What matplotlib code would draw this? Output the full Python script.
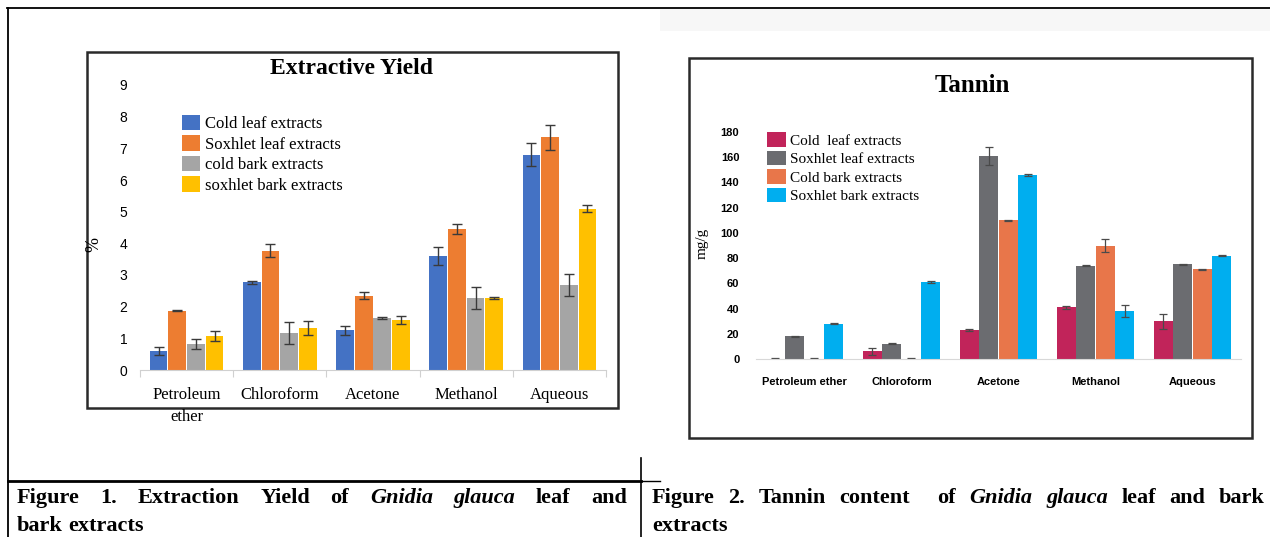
import matplotlib
matplotlib.use("Agg")
import matplotlib.pyplot as plt
from matplotlib.patches import Rectangle
import numpy as np

# tamaño de la imagen en pixeles
W, H = 1270, 537

# --- Datos: rendimiento de extracción (%) ---
solventes = ["Petroleum\nether", "Chloroform", "Acetone", "Methanol", "Aqueous"]
series_rend = ["Cold leaf extracts", "Soxhlet leaf extracts",
               "cold bark extracts", "soxhlet bark extracts"]
rend_cold_leaf = [0.6, 2.77, 1.25, 3.6, 6.8]
rend_soxhlet_leaf = [1.87, 3.77, 2.35, 4.45, 7.35]
rend_cold_bark = [0.82, 1.16, 1.63, 2.28, 2.68]
rend_soxhlet_bark = [1.07, 1.32, 1.58, 2.28, 5.1]
err_cold_leaf = [0.13, 0.04, 0.15, 0.28, 0.37]
err_soxhlet_leaf = [0.02, 0.2, 0.12, 0.17, 0.4]
err_cold_bark = [0.15, 0.35, 0.03, 0.35, 0.35]
err_soxhlet_bark = [0.15, 0.22, 0.13, 0.03, 0.12]
colores_rend = ["#4472C4", "#ED7D31", "#A5A5A5", "#FFC000"]

# --- Datos: contenido de taninos (mg/g) ---
solventes_tan = ["Petroleum ether", "Chloroform", "Acetone", "Methanol", "Aqueous"]
series_tan = ["Cold  leaf extracts", "Soxhlet leaf extracts",
              "Cold bark extracts", "Soxhlet bark extracts"]
tan_cold_leaf = [0.3, 6, 23, 41, 30]
tan_soxhlet_leaf = [18, 12, 161, 74, 75]
tan_cold_bark = [0.3, 0.3, 110, 90, 71]
tan_soxhlet_bark = [28, 61, 146, 38, 82]
err_tan_cold_leaf = [0.5, 3, 0.5, 1, 6]
err_tan_soxhlet_leaf = [0.5, 0.5, 7, 0.5, 0.5]
err_tan_cold_bark = [0.5, 0.5, 0.5, 5, 0.5]
err_tan_soxhlet_bark = [0.5, 0.5, 0.5, 5, 0.5]
colores_tan = ["#C1245A", "#6B6C70", "#E8764A", "#00AEEF"]


def rect_fig(x0, y0, x1, y1):
    # convierte una caja en pixeles (origen arriba) a fracciones de figura
    return [x0 / W, 1 - y1 / H, (x1 - x0) / W, (y1 - y0) / H]


fig = plt.figure(figsize=(W / 100, H / 100), dpi=100)
fig.patch.set_facecolor("white")

# capa de fondo en pixeles para marcos, títulos y leyendas de figura
bg = fig.add_axes([0, 0, 1, 1], zorder=-1)
bg.set_xlim(0, W)
bg.set_ylim(H, 0)
bg.axis("off")

# líneas de la tabla del documento
bg.add_patch(Rectangle((660, 9), 610, 22, color="#f7f7f7", lw=0))
bg.plot([7, 1270], [8, 8], color="black", lw=1.3)
bg.plot([8, 8], [8, 537], color="black", lw=1.3)
bg.plot([8, 641], [481, 481], color="black", lw=2)
bg.plot([641, 660], [481, 481], color="black", lw=1)
bg.plot([641, 641], [458, 537], color="black", lw=1.2)

# marcos de los gráficos
bg.add_patch(Rectangle((87, 52), 531, 356, fill=False, ec="#2a2a2a", lw=1.8))
bg.add_patch(Rectangle((689, 58), 563, 380, fill=False, ec="#2a2a2a", lw=1.8))

# ---------------- Figura 1 ----------------
ax1 = fig.add_axes(rect_fig(140, 85, 606, 370))
ax1.set_facecolor("none")
x = np.arange(len(solventes))
valores = [rend_cold_leaf, rend_soxhlet_leaf, rend_cold_bark, rend_soxhlet_bark]
errores = [err_cold_leaf, err_soxhlet_leaf, err_cold_bark, err_soxhlet_bark]
for i in range(4):
    ax1.bar(x + (i - 1.5) * 0.2, valores[i], 0.19, color=colores_rend[i],
            label=series_rend[i], yerr=errores[i],
            error_kw=dict(ecolor="#3a3a3a", elinewidth=1, capsize=3.5, capthick=1))
ax1.set_xlim(-0.5, 4.5)
ax1.set_ylim(0, 9)
ax1.set_yticks(range(10))
for s in ["top", "right", "left"]:
    ax1.spines[s].set_visible(False)
ax1.spines["bottom"].set_color("#D0D0D0")
ax1.tick_params(axis="y", length=0, pad=9, labelsize=10)
for t in ax1.get_yticklabels():
    t.set_fontfamily("Liberation Sans")
ax1.set_xticks(np.arange(-0.5, 5), labels=[])
ax1.tick_params(axis="x", which="major", length=5, color="#D0D0D0")
ax1.set_xticks(x, labels=solventes, minor=True)
ax1.tick_params(axis="x", which="minor", length=0, pad=12)
for t in ax1.get_xticklabels(minor=True):
    t.set_fontfamily("Liberation Serif")
    t.set_fontsize(12)
    t.set_linespacing(1.55)
ax1.legend(loc="upper left", bbox_to_anchor=(182 / W, 1 - 115 / H),
           bbox_transform=fig.transFigure, frameon=False, borderpad=0,
           borderaxespad=0, handlelength=1.05, handleheight=1.05,
           handletextpad=0.3, labelspacing=0.18,
           prop={"family": "Liberation Serif", "size": 12})
bg.text(352, 69, "Extractive Yield", ha="center", va="center",
        fontsize=17, fontweight="bold", family="Liberation Serif")
bg.text(94, 245, "%", ha="center", va="center", rotation=90,
        fontsize=13, family="Liberation Serif")

# ---------------- Figura 2 ----------------
ax2 = fig.add_axes(rect_fig(756, 132, 1241, 359))
ax2.set_facecolor("none")
valores_t = [tan_cold_leaf, tan_soxhlet_leaf, tan_cold_bark, tan_soxhlet_bark]
errores_t = [err_tan_cold_leaf, err_tan_soxhlet_leaf, err_tan_cold_bark, err_tan_soxhlet_bark]
for i in range(4):
    ax2.bar(x + (i - 1.5) * 0.2, valores_t[i], 0.195, color=colores_tan[i],
            label=series_tan[i], yerr=errores_t[i],
            error_kw=dict(ecolor="#4a4a4a", elinewidth=0.9, capsize=3, capthick=0.9))
ax2.set_xlim(-0.5, 4.5)
ax2.set_ylim(0, 180)
ax2.set_yticks(range(0, 181, 20))
for s in ["top", "right", "left"]:
    ax2.spines[s].set_visible(False)
ax2.spines["bottom"].set_color("#D8D8D8")
ax2.set_xticks(x, labels=solventes_tan)
ax2.tick_params(axis="x", length=0, pad=13)
ax2.tick_params(axis="y", length=0, pad=12)
for t in ax2.get_xticklabels() + ax2.get_yticklabels():
    t.set_fontfamily("Liberation Sans")
    t.set_fontsize(8)
    t.set_fontweight("bold")
ax2.legend(loc="upper left", bbox_to_anchor=(767 / W, 1 - 132 / H),
           bbox_transform=fig.transFigure, frameon=False, borderpad=0,
           borderaxespad=0, handlelength=1.25, handleheight=1.1,
           handletextpad=0.25, labelspacing=0.2,
           prop={"family": "Liberation Serif", "size": 11})
bg.text(972, 86, "Tannin", ha="center", va="center",
        fontsize=18, fontweight="bold", family="Liberation Serif")
bg.text(702, 243, "mg/g", ha="center", va="center", rotation=90,
        fontsize=11, family="Liberation Serif")

# ---------------- Leyendas de figura (texto justificado) ----------------
renderer = fig.canvas.get_renderer()
TAM = 16


def ancho(palabra, estilo):
    t = bg.text(0, 0, palabra, fontsize=TAM, fontweight="bold", style=estilo,
                family="Liberation Serif")
    w = t.get_window_extent(renderer).width
    t.remove()
    return w


def linea(palabras, x0, y, x1=None):
    anchos = [ancho(p, e) for p, e in palabras]
    if x1 is None:
        hueco = ancho("a a", "normal") - ancho("aa", "normal")
    else:
        hueco = (x1 - x0 - sum(anchos)) / (len(palabras) - 1)
    xx = x0
    for (p, e), w in zip(palabras, anchos):
        bg.text(xx, y, p, fontsize=TAM, fontweight="bold", style=e,
                family="Liberation Serif", va="baseline", ha="left")
        xx += w + hueco


n, it = "normal", "italic"
linea([("Figure", n), ("1.", n), ("Extraction", n), ("Yield", n), ("of", n),
       ("Gnidia", it), ("glauca", it), ("leaf", n), ("and", n)], 17, 503, 627)
linea([("bark", n), ("extracts", n)], 17, 531)
linea([("Figure", n), ("2.", n), ("Tannin", n), ("content", n), ("", n), ("of", n),
       ("Gnidia", it), ("glauca", it), ("leaf", n), ("and", n), ("bark", n)], 652, 503, 1265)
linea([("extracts", n)], 652, 531)

fig.savefig("out.png", dpi=100)
